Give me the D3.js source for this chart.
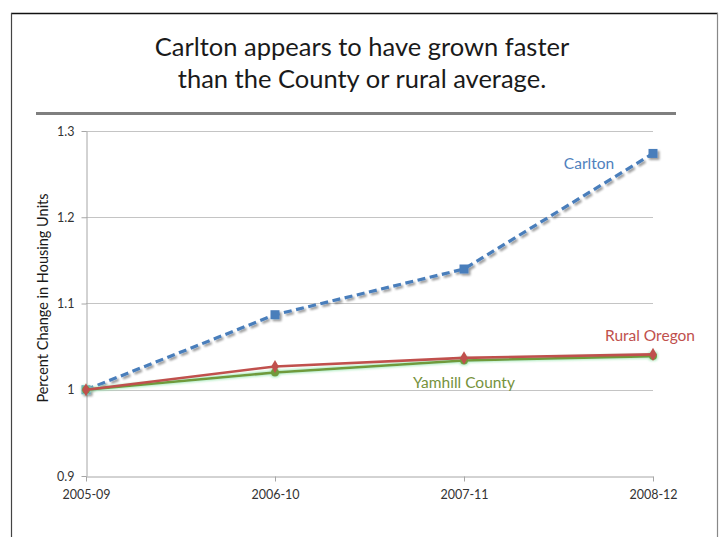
<!DOCTYPE html>
<html>
<head>
<meta charset="utf-8">
<script src="https://cdn.jsdelivr.net/npm/d3@7"></script>
<style>
  html, body { margin: 0; padding: 0; background: #fff; }
  svg { display: block; font-family: Lato, "Open Sans", sans-serif; }
</style>
</head>
<body>
<svg id="chart" width="719" height="537"></svg>
<script>
// Housing-unit growth index, 2005-09 = 1
const periods = ["2005-09", "2006-10", "2007-11", "2008-12"];
const carlton = [1.000, 1.087, 1.140, 1.274];
const ruralOregon = [1.000, 1.027, 1.037, 1.041];
const yamhillCounty = [1.000, 1.020, 1.034, 1.039];
const yTicks = [0.9, 1.0, 1.1, 1.2, 1.3];
const yTickLabels = ["0.9", "1", "1.1", "1.2", "1.3"];
const titleLines = ["Carlton appears to have grown faster", "than the County or rural average."];
const yAxisTitle = "Percent Change in Housing Units";

const svg = d3.select("#chart");
const W = 719, H = 537;

// slide frame
svg.append("line").attr("x1", 11).attr("x2", 718).attr("y1", 13.5).attr("y2", 13.5)
  .attr("stroke", "#111").attr("stroke-width", 1.3);
svg.append("line").attr("x1", 11.5).attr("x2", 11.5).attr("y1", 13).attr("y2", H)
  .attr("stroke", "#444").attr("stroke-width", 1.2);
svg.append("line").attr("x1", 717.5).attr("x2", 717.5).attr("y1", 13).attr("y2", H)
  .attr("stroke", "#888").attr("stroke-width", 1.2);

// title
const title = svg.append("text").attr("text-anchor", "middle")
  .attr("font-size", 25.5).attr("fill", "#1a1a1a");
titleLines.forEach((t, i) => {
  title.append("tspan").attr("x", 362).attr("y", 56 + i * 32).text(t);
});

// rule under the title
svg.append("line").attr("x1", 36).attr("x2", 676).attr("y1", 113.5).attr("y2", 113.5)
  .attr("stroke", "#7f7f7f").attr("stroke-width", 3);

// filters
const defs = svg.append("defs");
const shadow = defs.append("filter").attr("id", "shadow")
  .attr("x", "-20%").attr("y", "-20%").attr("width", "140%").attr("height", "140%");
shadow.append("feGaussianBlur").attr("in", "SourceAlpha").attr("stdDeviation", 1.2).attr("result", "b");
shadow.append("feOffset").attr("in", "b").attr("dx", 2).attr("dy", 2).attr("result", "o");
shadow.append("feComponentTransfer").attr("in", "o").attr("result", "s")
  .append("feFuncA").attr("type", "linear").attr("slope", 0.4);
const sm = shadow.append("feMerge");
sm.append("feMergeNode").attr("in", "s");
sm.append("feMergeNode").attr("in", "SourceGraphic");

const glow = defs.append("filter").attr("id", "glow")
  .attr("x", "-20%").attr("y", "-50%").attr("width", "140%").attr("height", "200%");
glow.append("feMorphology").attr("in", "SourceAlpha").attr("operator", "dilate").attr("radius", 1).attr("result", "d");
glow.append("feGaussianBlur").attr("in", "d").attr("stdDeviation", 1.2).attr("result", "b");
glow.append("feFlood").attr("flood-color", "#9be8b0").attr("flood-opacity", 0.75);
glow.append("feComposite").attr("in2", "b").attr("operator", "in").attr("result", "g");
const gm = glow.append("feMerge");
gm.append("feMergeNode").attr("in", "g");
gm.append("feMergeNode").attr("in", "SourceGraphic");

// scales
const x = d3.scalePoint().domain(periods).range([86, 653]);
const y = d3.scaleLinear().domain([0.9, 1.3]).range([476, 131]);

// gridlines
svg.append("g").selectAll("line").data(yTicks.slice(1)).join("line")
  .attr("x1", 86).attr("x2", 653)
  .attr("y1", d => Math.round(y(d)) + 0.5).attr("y2", d => Math.round(y(d)) + 0.5)
  .attr("stroke", "#c4c4c4").attr("stroke-width", 1);

// axes
const yAxis = svg.append("g").attr("transform", "translate(86.5,0)")
  .call(d3.axisLeft(y).tickValues(yTicks).tickSize(5).tickSizeOuter(0)
    .tickFormat((d, i) => yTickLabels[i]));
const xAxis = svg.append("g").attr("transform", "translate(0,476.5)")
  .call(d3.axisBottom(x).tickSize(5).tickSizeOuter(0));
[yAxis, xAxis].forEach(g => {
  g.select(".domain").attr("stroke", "#a6a6a6");
  g.selectAll(".tick line").attr("stroke", "#a6a6a6");
  g.selectAll(".tick text").attr("fill", "#333").attr("font-size", 12.5)
    .attr("font-family", "Lato, sans-serif");
});
yAxis.selectAll(".tick text").attr("x", -12);
xAxis.selectAll(".tick text").attr("y", 14);

// y axis title
svg.append("text")
  .attr("transform", "translate(48,298) rotate(-90)")
  .attr("text-anchor", "middle").attr("font-size", 14.5).attr("fill", "#1a1a1a")
  .text(yAxisTitle);

const line = d3.line().x((d, i) => x(periods[i])).y(d => y(d));

// Carlton: dashed blue with square markers
const gC = svg.append("g").attr("filter", "url(#shadow)");
gC.append("path").datum(carlton).attr("d", line).attr("fill", "none")
  .attr("stroke", "#4a7ebb").attr("stroke-width", 3.2).attr("stroke-dasharray", "8,4.5");
gC.selectAll("rect").data(carlton).join("rect")
  .attr("x", (d, i) => x(periods[i]) - 4.5).attr("y", d => y(d) - 4.5)
  .attr("width", 9).attr("height", 9).attr("fill", "#4a7ebb");

// Yamhill County: green with glow, round markers
const gY = svg.append("g").attr("filter", "url(#glow)");
gY.append("path").datum(yamhillCounty).attr("d", line).attr("fill", "none")
  .attr("stroke", "#6f9a3a").attr("stroke-width", 2.6);
gY.selectAll("circle").data(yamhillCounty).join("circle")
  .attr("cx", (d, i) => x(periods[i])).attr("cy", d => y(d)).attr("r", 4)
  .attr("fill", "#6f9a3a");

// Rural Oregon: red with diamond markers
const gR = svg.append("g");
gR.append("path").datum(ruralOregon).attr("d", line).attr("fill", "none")
  .attr("stroke", "#c0504d").attr("stroke-width", 2.6);
gR.selectAll("path.m").data(ruralOregon).join("path").attr("class", "m")
  .attr("d", d3.symbol(d3.symbolDiamond, 50))
  .attr("transform", (d, i) => `translate(${x(periods[i])},${y(d)})`)
  .attr("fill", "#c0504d");

// series labels
svg.append("text").attr("x", 589).attr("y", 168.5).attr("text-anchor", "middle")
  .attr("font-size", 15.5).attr("fill", "#4f81bd").text("Carlton");
svg.append("text").attr("x", 650).attr("y", 340.5).attr("text-anchor", "middle")
  .attr("font-size", 15.5).attr("fill", "#c0504d").text("Rural Oregon");
svg.append("text").attr("x", 464).attr("y", 387.5).attr("text-anchor", "middle")
  .attr("font-size", 15.5).attr("fill", "#76923c").text("Yamhill County");
</script>
</body>
</html>
